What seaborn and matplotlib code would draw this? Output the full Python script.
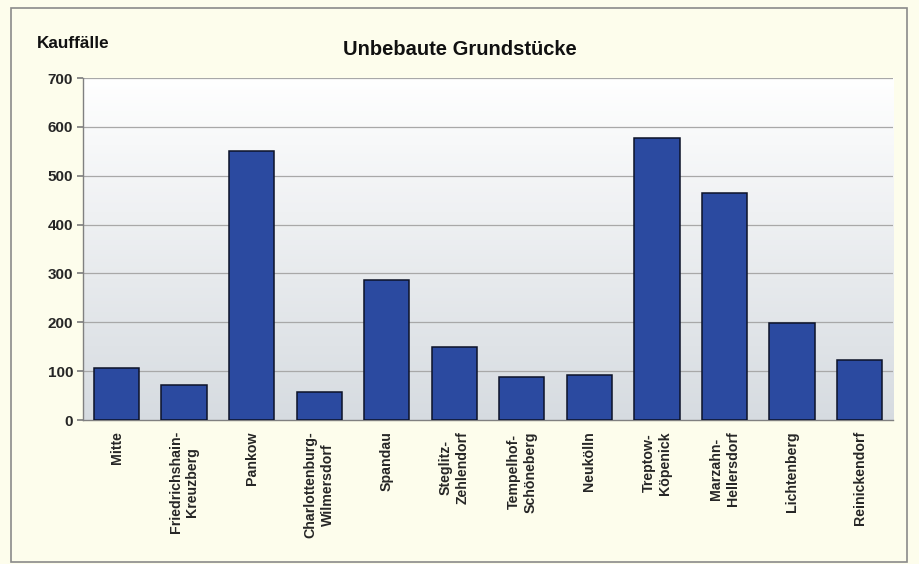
import numpy as np
import pandas as pd
import matplotlib
matplotlib.use("Agg")
import matplotlib.pyplot as plt
import seaborn as sns
from matplotlib.patches import Rectangle

districts = ["Mitte", "Friedrichshain-\nKreuzberg", "Pankow", "Charlottenburg-\nWilmersdorf",
             "Spandau", "Steglitz-\nZehlendorf", "Tempelhof-\nSchöneberg", "Neukölln",
             "Treptow-\nKöpenick", "Marzahn-\nHellersdorf", "Lichtenberg", "Reinickendorf"]
kauffaelle = [107, 72, 550, 57, 287, 149, 88, 92, 577, 465, 199, 123]
y_ticks = [0, 100, 200, 300, 400, 500, 600, 700]

sns.set_theme(style="white")
plt.rcParams['font.family'] = ['Liberation Sans', 'DejaVu Sans']

fig = plt.figure(figsize=(9.2, 5.64), dpi=100)
fig.patch.set_facecolor("#fdfdec")
ax = fig.add_axes([0.090, 0.2553, 0.881, 0.6064])

df = pd.DataFrame({"Bezirk": districts, "Kauffälle": kauffaelle})
sns.barplot(data=df, x="Bezirk", y="Kauffälle", ax=ax, color="#2b4aa0",
            saturation=1, width=0.67, edgecolor="#0c1228", linewidth=1.1, zorder=3)

# gradient background
grad = np.linspace(1, 0, 256).reshape(-1, 1)
top = np.array([1.0, 1.0, 1.0])
bot = np.array([0.84, 0.86, 0.88])
img = top[None, None, :] * grad[:, :, None] + bot[None, None, :] * (1 - grad[:, :, None])
ax.imshow(img, extent=[0, 1, 0, 1], transform=ax.transAxes, aspect="auto", zorder=0)

ax.set_ylim(0, 700)
ax.set_xlim(-0.5, len(districts) - 0.5)
ax.set_yticks(y_ticks)
ax.set_yticklabels([str(t) for t in y_ticks], fontsize=11, fontweight="bold")
for t in y_ticks[1:]:
    ax.axhline(t, color="#a8a8a8", linewidth=0.9, zorder=1)

ax.set_xticks(range(len(districts)))
ax.set_xticklabels(districts, rotation=90, fontsize=10.2, fontweight="bold",
                   ha="center", va="top", linespacing=1.25)
ax.tick_params(axis="x", which="major", length=0, pad=8)
ax.set_xticks(np.arange(-0.5, len(districts), 1.0), minor=True)
ax.tick_params(axis="x", which="minor", length=4, color="#808080", direction="out")
ax.tick_params(axis="y", length=4, color="#808080", direction="out", pad=3, left=True)

for s in ["top", "right"]:
    ax.spines[s].set_visible(False)
for s in ["left", "bottom"]:
    ax.spines[s].set_color("#808080")
    ax.spines[s].set_linewidth(1.0)

ax.set_xlabel("")
ax.set_ylabel("")

fig.text(0.5, 0.912, "Unbebaute Grundstücke", ha="center", va="center",
         fontsize=14.5, fontweight="bold", color="#111111")
fig.text(0.040, 0.922, "Kauffälle", ha="left", va="center",
         fontsize=12.3, fontweight="bold", color="#111111")

fig.patches.append(Rectangle((0.012, 0.003), 0.974, 0.983, transform=fig.transFigure,
                             fill=False, edgecolor="#8a8a8a", linewidth=1.2))

fig.savefig("out.png", dpi=100, facecolor=fig.get_facecolor())
